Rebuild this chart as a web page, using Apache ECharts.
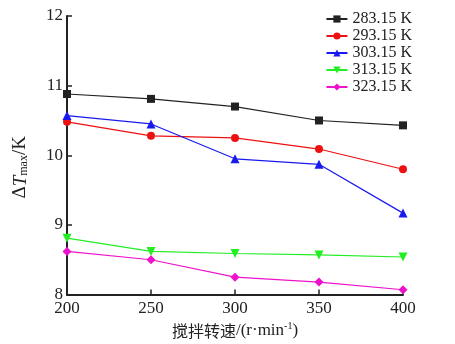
<!DOCTYPE html>
<html>
<head>
<meta charset="utf-8">
<script src="https://cdn.jsdelivr.net/npm/echarts@6/dist/echarts.min.js"></script>
<style>
  html, body { margin: 0; padding: 0; background: #fff; }
  #chart { width: 455px; height: 344px; }
</style>
</head>
<body>
<div id="chart"></div>
<script>
// Stirring speed (r/min) and maximum temperature rise for each bath temperature
const speeds = [200, 250, 300, 350, 400];
const seriesNames = ['283.15 K', '293.15 K', '303.15 K', '313.15 K', '323.15 K'];
const dT283 = [10.88, 10.81, 10.70, 10.50, 10.43];
const dT293 = [10.48, 10.28, 10.25, 10.09, 9.80];
const dT303 = [10.57, 10.45, 9.95, 9.87, 9.17];
const dT313 = [8.81, 8.62, 8.59, 8.57, 8.54];
const dT323 = [8.62, 8.50, 8.25, 8.18, 8.07];
const yTicks = [8, 9, 10, 11, 12];

const values = [dT283, dT293, dT303, dT313, dT323];
const colors = ['#222222', '#ee1111', '#1a1aee', '#22ee22', '#ee11cc'];
const symbols = ['rect', 'circle', 'triangle', 'triangle', 'diamond'];
const rotations = [0, 0, 0, 180, 0];
const sizes = [8, 8, 9, 9, 9];

const serif = '"Liberation Serif", "DejaVu Serif", serif';
const cjk = '"Noto Sans CJK SC", sans-serif';

const chart = echarts.init(document.getElementById('chart'));
chart.setOption({
  animation: false,
  backgroundColor: '#fff',
  grid: { left: 67, right: 52, top: 16, bottom: 49 },
  legend: {
    orient: 'vertical',
    right: 38,
    top: 6,
    itemGap: 1,
    itemWidth: 21,
    itemHeight: 9,
    textStyle: { fontFamily: serif, fontSize: 16, lineHeight: 16, color: '#222' },
    data: seriesNames
  },
  xAxis: {
    type: 'value',
    min: 200,
    max: 400,
    interval: 50,
    name: '{c|搅拌转速}{s|/(r·min}{sup|-1}{s|)}',
    nameLocation: 'middle',
    nameGap: 25,
    nameTextStyle: {
      rich: {
        c: { fontFamily: cjk, fontSize: 16, color: '#222' },
        s: { fontFamily: serif, fontSize: 17, color: '#222' },
        sup: { fontFamily: serif, fontSize: 10, color: '#222', verticalAlign: 'top', padding: [0, 0, 8, 0] }
      }
    },
    axisLine: { lineStyle: { color: '#222', width: 2 } },
    axisTick: { inside: true, length: 5, lineStyle: { color: '#222', width: 1.5 } },
    axisLabel: { fontFamily: serif, fontSize: 17, color: '#222', margin: 5 },
    splitLine: { show: false }
  },
  yAxis: {
    type: 'value',
    min: yTicks[0],
    max: yTicks[yTicks.length - 1],
    interval: 1,
    name: '{d|Δ}{t|T}{s|max}{d|/K}',
    nameLocation: 'middle',
    nameGap: 37,
    nameRotate: 90,
    nameTextStyle: {
      padding: [0, 24, 0, 0],
      rich: {
        d: { fontFamily: serif, fontSize: 19, color: '#222' },
        t: { fontFamily: serif, fontSize: 19, fontStyle: 'italic', color: '#222' },
        s: { fontFamily: serif, fontSize: 12, color: '#222', verticalAlign: 'bottom', padding: [7, 0, 0, 0] }
      }
    },
    axisLine: { show: true, lineStyle: { color: '#222', width: 2 } },
    axisTick: { show: true, inside: true, length: 5, lineStyle: { color: '#222', width: 1.5 } },
    axisLabel: { fontFamily: serif, fontSize: 17, color: '#222', margin: 4 },
    splitLine: { show: false }
  },
  series: seriesNames.map((name, i) => ({
    name: name,
    type: 'line',
    data: speeds.map((s, j) => [s, values[i][j]]),
    symbol: symbols[i],
    symbolRotate: rotations[i],
    symbolSize: sizes[i],
    showAllSymbol: true,
    clip: false,
    itemStyle: { color: colors[i] },
    lineStyle: { color: colors[i], width: 1.2 }
  }))
});
</script>
</body>
</html>
